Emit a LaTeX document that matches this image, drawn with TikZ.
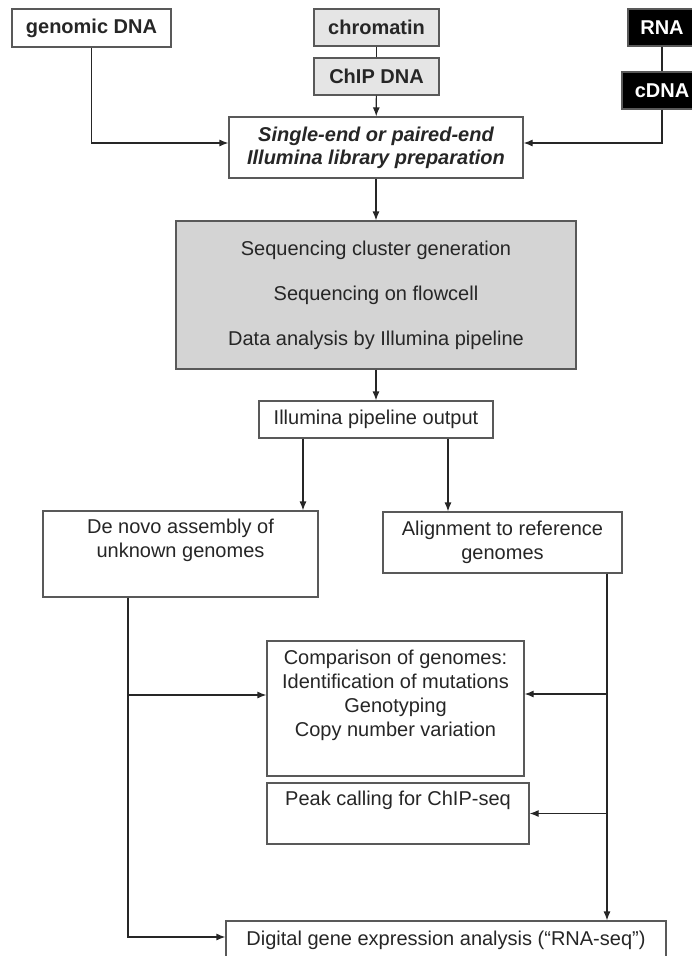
\documentclass[tikz,border=0pt]{standalone}
\usepackage{fontspec}
\setmainfont{Liberation Sans}
\usetikzlibrary{arrows.meta}

\begin{document}
\begin{tikzpicture}[x=1pt,y=-1pt,
  box/.style={draw=black!65,line width=1.2pt,inner sep=0pt,align=center,text=black!85,font=\fontsize{20}{24}\selectfont},
  src/.style={box,font=\fontsize{20}{24}\selectfont\bfseries},
  lin/.style={draw=black!85,line width=1.2pt},
  arr/.style={lin,-{Latex[length=9pt,width=7pt]}}]
\useasboundingbox (0,0) rectangle (692,956);
\fill[white] (0,0) rectangle (692,956);
\node[src,minimum width=159,minimum height=38] (gdna) at (91.5,28) {genomic DNA};
\node[src,fill=black!10,minimum width=125,minimum height=37] (chrom) at (376.5,27.5) {chromatin};
\node[src,fill=black!10,minimum width=125,minimum height=37] (chip) at (376.5,76.5) {ChIP DNA};
\node[src,fill=black,text=white,minimum width=68,minimum height=37] (rna) at (662,27.5) {RNA};
\node[src,fill=black,text=white,minimum width=80,minimum height=37] (cdna) at (662,90.5) {cDNA};
\node[box,font=\fontsize{20}{23}\selectfont\bfseries\itshape,minimum width=294,minimum height=61] (lib) at (376,147.5) {Single-end or paired-end\\Illumina library preparation};
\node[box,fill=black!17,minimum width=400,minimum height=148] (seq) at (376,295) {Sequencing cluster generation\\[21pt]Sequencing on flowcell\\[21pt]Data analysis by Illumina pipeline};
\node[box,minimum width=234,minimum height=37] (out) at (376,419.5) {Illumina pipeline output};
\node[box,minimum width=275,minimum height=86] (denovo) at (180.5,554) {De novo assembly of\\unknown genomes\\\strut};
\node[box,minimum width=239,minimum height=61] (align) at (502.5,542.5) {Alignment to reference\\genomes};
\node[box,minimum width=257,minimum height=135] (comp) at (395.5,708.5) {Comparison of genomes:\\Identification of mutations\\Genotyping\\Copy number variation\\\strut};
\node[box,minimum width=262,minimum height=61] (peak) at (398,813.5) {Peak calling for ChIP-seq\\\strut};
\node[box,minimum width=440,minimum height=38] (dge) at (446,940) {Digital gene expression analysis (“RNA-seq”)};
\draw[lin] (chrom) -- (chip);
\draw[arr] (chip) -- (lib);
\draw[lin] (rna) -- (cdna);
\draw[arr] (gdna.south) |- ([yshift=4.5pt]lib.west);
\draw[arr] (cdna.south) |- ([yshift=4.5pt]lib.east);
\draw[arr] (lib) -- (seq);
\draw[arr] (seq) -- (out);
\coordinate (o1) at ([xshift=-73pt]out.south);
\coordinate (o2) at ([xshift=72pt]out.south);
\draw[arr] (o1) -- (o1 |- denovo.north);
\draw[arr] (o2) -- (o2 |- align.north);
\coordinate (lb) at ([xshift=-52.5pt]denovo.south);
\coordinate (rb) at ([xshift=104.5pt]align.south);
\draw[arr] (lb) |- ([yshift=13.5pt]comp.west);
\draw[arr] (lb) |- ([yshift=3pt]dge.west);
\draw[arr] (rb) -- (rb |- dge.north);
\draw[arr] (rb) |- ([yshift=14.5pt]comp.east);
\draw[arr] (rb) |- (peak.east);
\end{tikzpicture}
\end{document}
